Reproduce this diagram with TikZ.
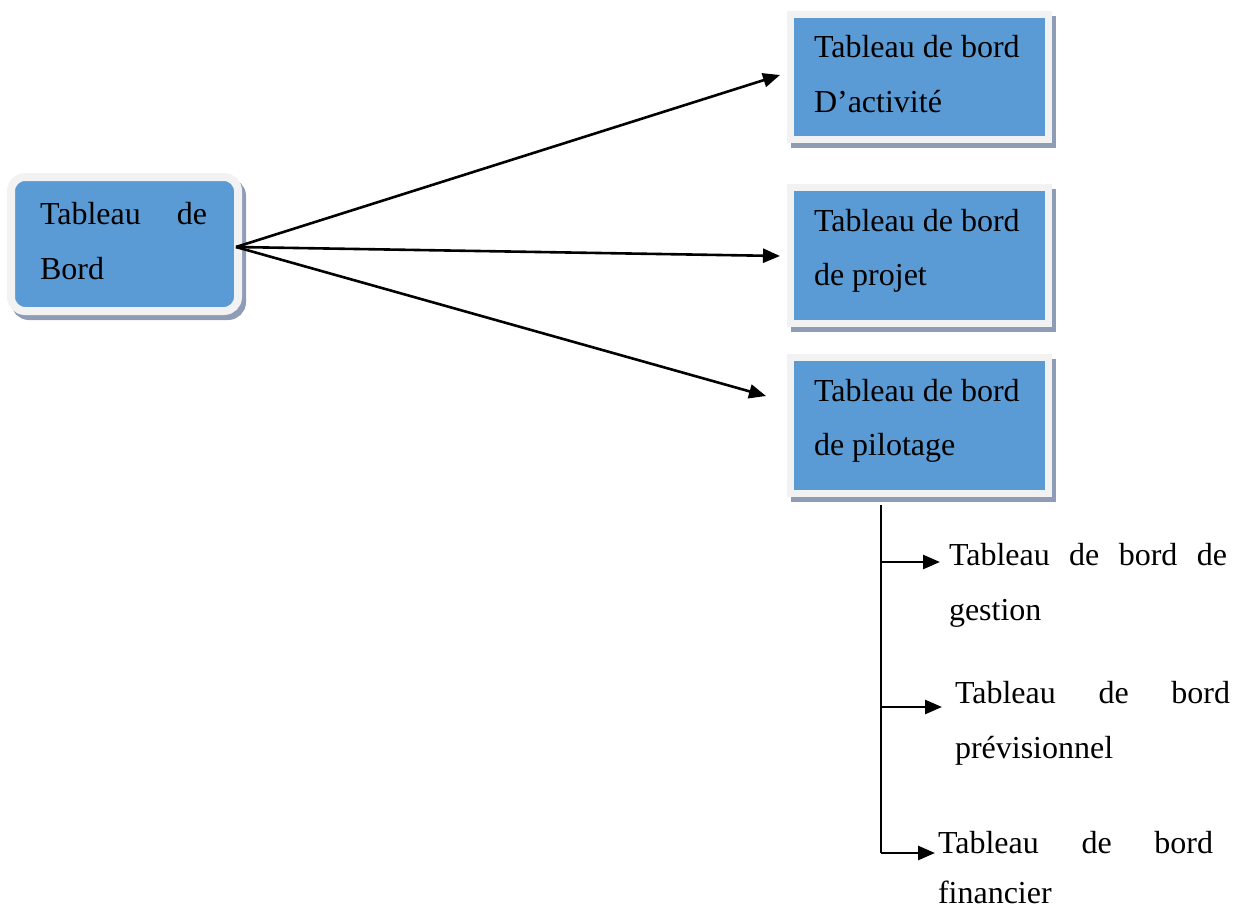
\documentclass[tikz,border=0pt]{standalone}
\usepackage{fontspec}
\setmainfont{Liberation Serif}
\usetikzlibrary{arrows.meta,calc}

\definecolor{boxblue}{HTML}{5B9BD5}
\definecolor{rimgray}{HTML}{F2F2F2}
\definecolor{shadowc}{HTML}{8E9CB6}

\tikzset{
  panel/.style={rectangle, inner sep=0pt, outer sep=0pt,
    fill=boxblue, draw=rimgray, line width=7pt,
    preaction={fill=shadowc, draw=shadowc, line width=7pt,
      transform canvas={shift={(4pt,-5pt)}}}},
  rpanel/.style={panel, rounded corners=14pt, line width=8pt,
    preaction={fill=shadowc, draw=shadowc, line width=8pt, rounded corners=14pt,
      transform canvas={shift={(4pt,-5pt)}}}},
  txt/.style={anchor=base west, inner sep=0pt, outer sep=0pt,
    font=\fontsize{32pt}{38pt}\selectfont},
  arr/.style={line width=2.6pt, -{Triangle[length=17pt,width=14pt]}},
  trunk/.style={line width=2.4pt}
}

\begin{document}
\begin{tikzpicture}[x=1pt, y=-1pt]
  \useasboundingbox (0,0) rectangle (1241,910);

  % root box
  \node[rpanel, minimum width=227pt, minimum height=134pt] (main) at (124.5,244) {};
  \node[txt] (mainA) at (40,224) {\makebox[167pt][s]{Tableau de}};
  \node[txt] (mainB) at (40,279) {Bord};

  % three kinds of dashboards
  \node[panel, minimum width=258pt, minimum height=125pt] (act) at (919.5,77) {};
  \node[txt] (actA) at (814,57) {Tableau de bord};
  \node[txt] (actB) at (814,112) {D’activité};

  \node[panel, minimum width=258pt, minimum height=136pt] (proj) at (919.5,255.5) {};
  \node[txt] (projA) at (814,231) {Tableau de bord};
  \node[txt] (projB) at (814,285) {de projet};

  \node[panel, minimum width=258pt, minimum height=136pt] (pil) at (919.5,425.5) {};
  \node[txt] (pilA) at (814,401) {Tableau de bord};
  \node[txt] (pilB) at (814,455) {de pilotage};

  % arrows from the root
  \coordinate (src) at (236,247);
  \coordinate (tipAct) at (780,75);
  \coordinate (tipProj) at (780,256);
  \coordinate (tipPil) at (766,396);
  \draw[arr] (src) -- (tipAct);
  \draw[arr] (src) -- (tipProj);
  \draw[arr] (src) -- (tipPil);

  % sub-types of the steering dashboard
  \node[txt] (gesA) at (949,565) {\makebox[278pt][s]{Tableau de bord de}};
  \node[txt] (gesB) at (949,620) {gestion};
  \node[txt] (prevA) at (955,703) {\makebox[275pt][s]{Tableau de bord}};
  \node[txt] (prevB) at (955,758) {prévisionnel};
  \node[txt] (finA) at (938,853) {\makebox[275pt][s]{Tableau de bord}};
  \node[txt] (finB) at (938,903) {financier};

  \coordinate (top) at (881,505);
  \coordinate (b1) at (881,562);
  \coordinate (b2) at (881,707);
  \coordinate (b3) at (881,853);
  \coordinate (t1) at (940,562);
  \coordinate (t2) at (942,707);
  \coordinate (t3) at (935,853);
  \draw[trunk] (top) -- (b3);
  \draw[arr] (b1) -- (t1);
  \draw[arr] (b2) -- (t2);
  \draw[arr] (b3) -- (t3);
\end{tikzpicture}
\end{document}
